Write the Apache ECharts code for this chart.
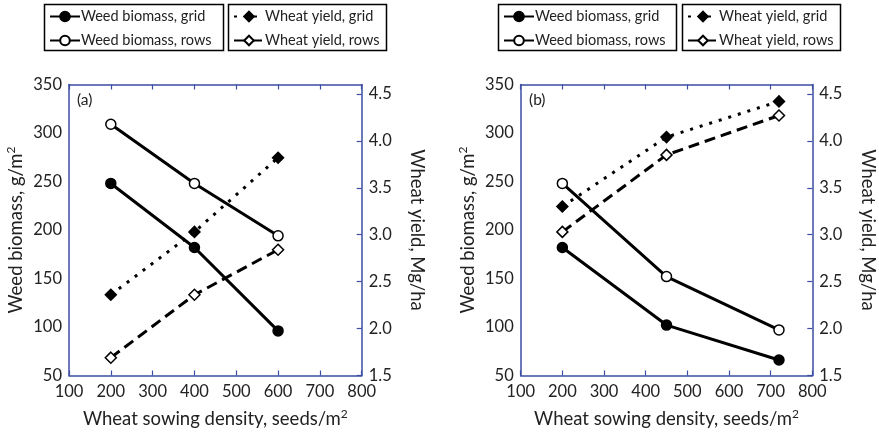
<!DOCTYPE html>
<html><head><meta charset="utf-8">
<script src="https://cdn.jsdelivr.net/npm/echarts@6/dist/echarts.min.js"></script>
<style>html,body{margin:0;padding:0;background:#fff}#c{width:879px;height:434px}</style>
</head><body><div id="c"></div>
<script>
// Panel (a)
var densityA = [200, 400, 600];
var weedGridA = [248, 182, 96];
var weedRowsA = [309, 248, 194];
var yieldGridA = [2.36, 3.03, 3.82];
var yieldRowsA = [1.69, 2.36, 2.84];
// Panel (b)
var densityB = [200, 450, 720];
var weedGridB = [182, 102, 66];
var weedRowsB = [248, 152, 97];
var yieldGridB = [3.30, 4.04, 4.42];
var yieldRowsB = [3.03, 3.85, 4.27];

var names = ['Weed biomass, grid', 'Weed biomass, rows', 'Wheat yield, grid', 'Wheat yield, rows'];
var panelLabels = ['(a)', '(b)'];
var xTitle = 'Wheat sowing density, seeds/m';
var yLeftTitle = 'Weed biomass, g/m';
var yRightTitle = 'Wheat yield, Mg/ha';

var FONT = 'Lato';
var AX = '#3c4ea3';
var TXT = '#222';

function pairs(xs, ys){ return xs.map(function(x,i){ return [x, ys[i]]; }); }

var grids = [
  {left: 69, top: 84.5, width: 292.7, height: 292},
  {left: 520.7, top: 84.5, width: 291.6, height: 292}
];

var richTitle = {t:{fontSize:18.5, lineHeight:22, fontFamily:FONT, color:TXT}, s:{fontSize:12, lineHeight:13, verticalAlign:'top', fontFamily:FONT, color:TXT}};

var xAxes = [], yAxes = [];
[0,1].forEach(function(g){
  xAxes.push({
    type:'value', gridIndex:g, min:100, max:800, interval:100, position:'bottom',
    axisLine:{show:true, lineStyle:{color:AX, width:1.5}},
    axisTick:{show:true, inside:true, length:5, lineStyle:{color:AX, width:1.2}},
    axisLabel:{color:TXT, fontSize:16.5, fontFamily:FONT, margin:8},
    splitLine:{show:false},
    name:'{t|' + xTitle + '}{s|2}', nameLocation:'middle', nameGap:33,
    nameTextStyle:{color:TXT, fontFamily:FONT, rich:richTitle}
  });
  xAxes.push({
    type:'value', gridIndex:g, min:100, max:800, interval:100, position:'top',
    axisLine:{show:true, lineStyle:{color:AX, width:1.5}},
    axisTick:{show:true, inside:true, length:5, lineStyle:{color:AX, width:1.2}},
    axisLabel:{show:false}, splitLine:{show:false}
  });
  yAxes.push({
    type:'value', gridIndex:g, min:50, max:350, interval:50, position:'left',
    axisLine:{show:true, lineStyle:{color:AX, width:1.5}},
    axisTick:{show:false},
    axisLabel:{color:TXT, fontSize:16.5, fontFamily:FONT, margin:7},
    splitLine:{show:false},
    name:'{t|' + yLeftTitle + '}{s|2}', nameLocation:'middle', nameGap:42,
    nameTextStyle:{color:TXT, fontFamily:FONT, rich:richTitle}
  });
  yAxes.push({
    type:'value', gridIndex:g, min:1.5, max:4.6, interval:0.5, position:'right',
    axisLine:{show:true, lineStyle:{color:AX, width:1.5}},
    axisTick:{show:true, inside:true, length:5, lineStyle:{color:AX, width:1.2}},
    axisLabel:{color:TXT, fontSize:16.5, fontFamily:FONT, margin:7, showMaxLabel:false,
      formatter:function(v){ return Math.abs(v*2 - Math.round(v*2))<1e-6 ? v.toFixed(1) : ''; }},
    splitLine:{show:false},
    name:yRightTitle, nameLocation:'middle', nameGap:46, nameRotate:-90,
    nameTextStyle:{color:TXT, fontFamily:FONT, fontSize:18.5}
  });
});

function mk(name, g, xs, ys, kind){
  return {
    name:name, type:'line', xAxisIndex:g*2, yAxisIndex: kind.right ? g*2+1 : g*2,
    data:pairs(xs, ys), symbol:kind.symbol, symbolSize:kind.symbol==='diamond'?11:10,
    lineStyle:{color:'#000', width:3, type:kind.type},
    itemStyle:{color:kind.fill, borderColor:'#000', borderWidth:1.5},
    z: kind.right ? 3 : 4, animation:false
  };
}
var K = [
  {symbol:'circle', fill:'#000', type:'solid', right:false},
  {symbol:'circle', fill:'#fff', type:'solid', right:false},
  {symbol:'diamond', fill:'#000', type:[3,7], right:true},
  {symbol:'diamond', fill:'#fff', type:[11,6], right:true}
];
var series = [
  mk(names[0],0,densityA,weedGridA,K[0]),
  mk(names[1],0,densityA,weedRowsA,K[1]),
  mk(names[2],0,densityA,yieldGridA,K[2]),
  mk(names[3],0,densityA,yieldRowsA,K[3]),
  mk(names[0],1,densityB,weedGridB,K[0]),
  mk(names[1],1,densityB,weedRowsB,K[1]),
  mk(names[2],1,densityB,yieldGridB,K[2]),
  mk(names[3],1,densityB,yieldRowsB,K[3])
];

function lg(left, data){
  return {left:left, top:9, orient:'vertical', data:data, itemWidth:30, itemHeight:12, itemGap:9,
    padding:0, selectedMode:false,
    textStyle:{fontSize:14.5, color:TXT, fontFamily:FONT, padding:[0,0,0,-4]}};
}
var legends = [lg(49,[names[0],names[1]]), lg(233,[names[2],names[3]]), lg(503,[names[0],names[1]]), lg(687,[names[2],names[3]])];

var boxes = [[44.5,4.5,179,46],[228.5,4.5,158,46],[498.5,4.5,178,46],[682.5,4.5,158,46]];
var graphic = boxes.map(function(b){
  return {type:'rect', shape:{x:b[0], y:b[1], width:b[2], height:b[3]}, style:{fill:'none', stroke:'#000', lineWidth:1.5}, z:0};
});
graphic.push({type:'text', left:77, top:92, style:{text:panelLabels[0], fontSize:15.5, fontFamily:FONT, fill:TXT}});
graphic.push({type:'text', left:529, top:92, style:{text:panelLabels[1], fontSize:15.5, fontFamily:FONT, fill:TXT}});

var chart = echarts.init(document.getElementById('c'), null, {renderer:'canvas'});
chart.setOption({
  animation:false, backgroundColor:'#fff',
  grid:grids, xAxis:xAxes, yAxis:yAxes, series:series, legend:legends, graphic:graphic
});
</script></body></html>
